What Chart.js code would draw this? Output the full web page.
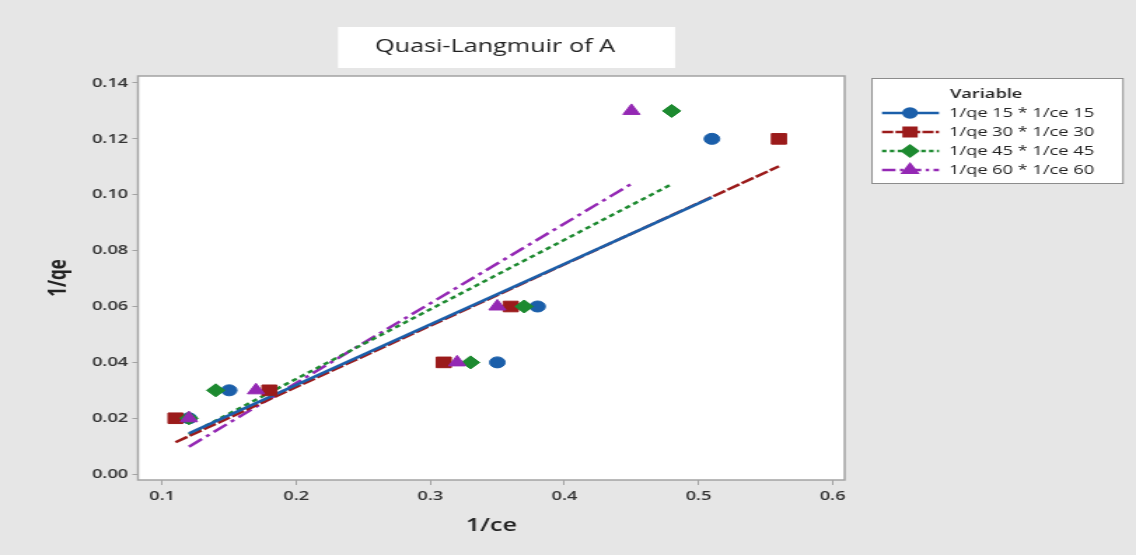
<!DOCTYPE html>
<html>
<head>
<meta charset="utf-8">
<title>Quasi-Langmuir of A</title>
<script src="https://cdn.jsdelivr.net/npm/chart.js@4.4.1/dist/chart.umd.min.js"></script>
<style>
  html, body { margin: 0; padding: 0; background: #e6e6e6; }
  #langmuirChart { display: block; width: 1136px; height: 555px; }
</style>
</head>
<body>
<canvas id="langmuirChart" width="811" height="555" style="width:1136px;height:555px"></canvas>
<script>
// 1/ce (x) and 1/qe (y) for each contact time
const ce15 = [0.12, 0.15, 0.35, 0.38, 0.51];
const qe15 = [0.02, 0.03, 0.04, 0.06, 0.12];
const ce30 = [0.11, 0.18, 0.31, 0.36, 0.56];
const qe30 = [0.02, 0.03, 0.04, 0.06, 0.12];
const ce45 = [0.12, 0.14, 0.33, 0.37, 0.48];
const qe45 = [0.02, 0.03, 0.04, 0.06, 0.13];
const ce60 = [0.12, 0.17, 0.32, 0.35, 0.45];
const qe60 = [0.02, 0.03, 0.04, 0.06, 0.13];

const seriesNames = ['1/qe 15 * 1/ce 15', '1/qe 30 * 1/ce 30', '1/qe 45 * 1/ce 45', '1/qe 60 * 1/ce 60'];
const xTicks = [0.1, 0.2, 0.3, 0.4, 0.5, 0.6];
const yTicks = [0.00, 0.02, 0.04, 0.06, 0.08, 0.10, 0.12, 0.14];

const FONT = '"Open Sans", "Noto Sans", sans-serif';

// the bitmap is drawn narrow and shown wide (Minitab-style wide export)
const S = 1136 / 811;
const px = v => v / S;

// marker + line style per series
const styles = [
    { color: '#1b5faa', point: 'circle',   radius: 5.5, dash: [] },
    { color: '#9b1b1b', point: 'rect',     radius: 7.5, dash: [10, 2] },
    { color: '#1d8a30', point: 'rectRot',  radius: 6.5, dash: [4, 3] },
    { color: '#9428b4', point: 'triangle', radius: 7,   dash: [12, 4, 3, 4] }
];

// least squares fit, drawn across the range of x
function fitLine(xs, ys) {
    const n = xs.length;
    const mx = xs.reduce((a, b) => a + b, 0) / n;
    const my = ys.reduce((a, b) => a + b, 0) / n;
    let sxy = 0, sxx = 0;
    for (let i = 0; i < n; i++) {
        sxy += (xs[i] - mx) * (ys[i] - my);
        sxx += (xs[i] - mx) * (xs[i] - mx);
    }
    const b = sxy / sxx;
    const a = my - b * mx;
    const x0 = Math.min(...xs), x1 = Math.max(...xs);
    return [{ x: x0, y: a + b * x0 }, { x: x1, y: a + b * x1 }];
}

const groups = [[ce15, qe15], [ce30, qe30], [ce45, qe45], [ce60, qe60]];

const datasets = [];
groups.forEach(([xs, ys], i) => {
    const s = styles[i];
    datasets.push({
        type: 'line',
        label: seriesNames[i] + ' fit',
        data: fitLine(xs, ys),
        borderColor: s.color,
        borderWidth: 2.5,
        borderDash: s.dash,
        pointRadius: 0,
        fill: false,
        order: 20 + i
    });
    datasets.push({
        type: 'scatter',
        label: seriesNames[i],
        data: xs.map((x, k) => ({ x: x, y: ys[k] })),
        backgroundColor: s.color,
        borderColor: s.color,
        borderWidth: 1,
        pointStyle: s.point,
        pointRadius: s.radius,
        order: 10 - i
    });
});

// gray page, white plot area, boxed frame, title box and legend
const decorations = {
    id: 'decorations',
    beforeDraw(chart) {
        const { ctx, chartArea: a } = chart;
        ctx.save();
        ctx.fillStyle = '#e6e6e6';
        ctx.fillRect(0, 0, chart.width, chart.height);
        ctx.fillStyle = '#ffffff';
        ctx.fillRect(a.left, a.top, a.right - a.left, a.bottom - a.top);
        ctx.restore();
    },
    afterDraw(chart) {
        const { ctx, chartArea: a } = chart;
        ctx.save();
        ctx.strokeStyle = '#a3a3a3';
        ctx.lineWidth = 1.5;
        ctx.strokeRect(a.left, a.top, a.right - a.left, a.bottom - a.top);

        // title box
        ctx.fillStyle = '#ffffff';
        ctx.fillRect(px(338), 27, px(337), 41);
        ctx.fillStyle = '#222222';
        ctx.font = '18px ' + FONT;
        ctx.textAlign = 'center';
        ctx.textBaseline = 'middle';
        ctx.fillText('Quasi-Langmuir of A', px(495), 47);

        // legend
        const lx = px(872), ly = 78, lw = px(251), lh = 105;
        ctx.fillStyle = '#ffffff';
        ctx.fillRect(lx, ly, lw, lh);
        ctx.strokeStyle = '#8c8c8c';
        ctx.lineWidth = 1;
        ctx.strokeRect(lx, ly + 0.5, lw, lh);
        ctx.fillStyle = '#222222';
        ctx.textAlign = 'left';
        ctx.font = '600 13px ' + FONT;
        ctx.fillText('Variable', px(950), 94);
        ctx.font = '13px ' + FONT;
        styles.forEach((s, i) => {
            const y = 113 + i * 19;
            ctx.strokeStyle = s.color;
            ctx.lineWidth = 2.5;
            ctx.setLineDash(s.dash.map(d => d * 0.8));
            ctx.beginPath();
            ctx.moveTo(px(882), y);
            ctx.lineTo(px(939), y);
            ctx.stroke();
            ctx.setLineDash([]);
            ctx.fillStyle = s.color;
            ctx.strokeStyle = s.color;
            Chart.helpers.drawPoint(ctx, { pointStyle: s.point, radius: s.radius * 0.8, borderWidth: 1, rotation: 0 }, px(910), y);
            ctx.fillStyle = '#222222';
            ctx.fillText(seriesNames[i], px(949), y);
        });
        ctx.restore();
    }
};

const tickFont = { family: FONT, size: 13, weight: '600' };

new Chart(document.getElementById('langmuirChart'), {
    data: { datasets: datasets },
    plugins: [decorations],
    options: {
        responsive: false,
        animation: false,
        layout: { padding: { left: 28, top: 76, right: 208, bottom: 14 } },
        plugins: {
            legend: { display: false },
            tooltip: { enabled: false }
        },
        scales: {
            x: {
                type: 'linear',
                min: 0.082,
                max: 0.609,
                afterBuildTicks: s => { s.ticks = xTicks.map(v => ({ value: v })); },
                afterFit: s => { s.height = 61; },
                grid: { drawOnChartArea: false, tickLength: 5, color: '#a3a3a3' },
                border: { display: false },
                ticks: { font: tickFont, color: '#333333', padding: 3, maxRotation: 0,
                         callback: v => v.toFixed(1) },
                title: { display: true, text: '1/ce', color: '#222222',
                         font: { family: FONT, size: 18, weight: '600' }, padding: { top: 2, bottom: 4 } }
            },
            y: {
                type: 'linear',
                min: -0.0021,
                max: 0.1425,
                afterBuildTicks: s => { s.ticks = yTicks.map(v => ({ value: v })); },
                afterFit: s => { s.width = 70.5; },
                grid: { drawOnChartArea: false, tickLength: 4, color: '#a3a3a3' },
                border: { display: false },
                ticks: { font: tickFont, color: '#333333', padding: 3,
                         callback: v => v.toFixed(2) },
                title: { display: true, text: '1/qe', color: '#222222',
                         font: { family: FONT, size: 17, weight: 'bold' }, padding: { top: 4, bottom: 4 } }
            }
        }
    }
});
</script>
</body>
</html>
